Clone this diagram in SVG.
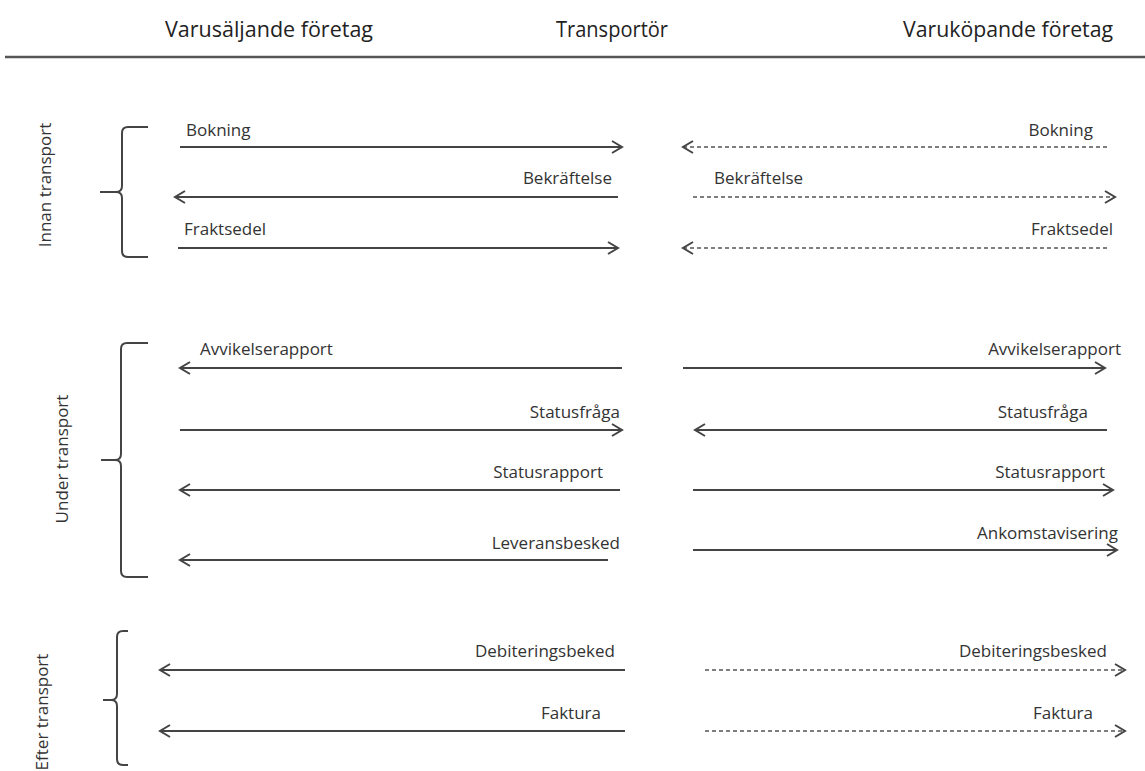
<svg xmlns="http://www.w3.org/2000/svg" width="1145" height="771" viewBox="0 0 1145 771">
<defs>
<style>
.hdr{font-family:"Open Sans","Liberation Sans",sans-serif;font-size:21px;fill:#222;lengthAdjust:spacingAndGlyphs}
.lbl{font-family:"Open Sans","Liberation Sans",sans-serif;font-size:17px;fill:#333}
.side{font-family:"Open Sans","Liberation Sans",sans-serif;font-size:17px;fill:#333}
.s{stroke:#444;stroke-width:2;fill:none;marker-end:url(#ah)}
.d{stroke:#555;stroke-width:1.6;fill:none;stroke-dasharray:4 3;marker-end:url(#ah)}
.br{stroke:#444;stroke-width:2;fill:none}
</style>
<marker id="ah" markerUnits="userSpaceOnUse" markerWidth="14" markerHeight="16" viewBox="0 0 14 16" refX="12" refY="8" orient="auto">
<path d="M2,2 L12,8 L2,14" fill="none" stroke="#444" stroke-width="2" stroke-dasharray="none"/>
</marker>
</defs>
<rect width="1145" height="771" fill="#fff"/>

<g id="header">
<text class="hdr" x="165" y="37" textLength="208" lengthAdjust="spacingAndGlyphs">Varusäljande företag</text>
<text class="hdr" x="556" y="37" textLength="112" lengthAdjust="spacingAndGlyphs">Transportör</text>
<text class="hdr" x="903" y="37" textLength="210" lengthAdjust="spacingAndGlyphs">Varuköpande företag</text>
<line x1="5" y1="57" x2="1145" y2="57" stroke="#555" stroke-width="2.5"/>
</g>

<g id="innan">
<path class="br" d="M148,127 H128 Q122,127 122,133 V186 Q122,192 116,192 H100 M116,192 Q122,192 122,198 V251 Q122,257 128,257 H148"/>
<text class="side" transform="translate(51,185) rotate(-90)" text-anchor="middle">Innan transport</text>
</g>
<g id="under">
<path class="br" d="M148,343 H127 Q121,343 121,349 V454 Q121,460 115,460 H101 M115,460 Q121,460 121,466 V571 Q121,577 127,577 H148"/>
<text class="side" transform="translate(68,459) rotate(-90)" text-anchor="middle">Under transport</text>
</g>
<g id="efter">
<path class="br" d="M128,631 H123 Q117,631 117,637 V694 Q117,700 111,700 H103 M111,700 Q117,700 117,706 V759 Q117,765 123,765 H128"/>
<text class="side" transform="translate(48,712) rotate(-90)" text-anchor="middle">Efter transport</text>
</g>

<g id="labels">
<text class="lbl" x="186" y="136">Bokning</text>
<text class="lbl" x="612" y="184" text-anchor="end">Bekräftelse</text>
<text class="lbl" x="184" y="235">Fraktsedel</text>
<text class="lbl" x="1093" y="136" text-anchor="end">Bokning</text>
<text class="lbl" x="714" y="184">Bekräftelse</text>
<text class="lbl" x="1113" y="235" text-anchor="end">Fraktsedel</text>

<text class="lbl" x="200" y="355">Avvikelserapport</text>
<text class="lbl" x="1121" y="355" text-anchor="end">Avvikelserapport</text>
<text class="lbl" x="620" y="418" text-anchor="end">Statusfråga</text>
<text class="lbl" x="1088" y="418" text-anchor="end">Statusfråga</text>
<text class="lbl" x="603" y="478" text-anchor="end">Statusrapport</text>
<text class="lbl" x="1105" y="478" text-anchor="end">Statusrapport</text>
<text class="lbl" x="620" y="549" text-anchor="end">Leveransbesked</text>
<text class="lbl" x="1118" y="539" text-anchor="end">Ankomstavisering</text>

<text class="lbl" x="615" y="657" text-anchor="end">Debiteringsbeked</text>
<text class="lbl" x="1107" y="657" text-anchor="end">Debiteringsbesked</text>
<text class="lbl" x="601" y="719" text-anchor="end">Faktura</text>
<text class="lbl" x="1093" y="719" text-anchor="end">Faktura</text>
</g>

<g id="connectors">
<line class="s" x1="180" y1="147" x2="622" y2="147"/>
<line class="s" x1="618" y1="197" x2="175" y2="197"/>
<line class="s" x1="178" y1="248" x2="618" y2="248"/>
<line class="d" x1="1107" y1="147" x2="683" y2="147"/>
<line class="d" x1="693" y1="197" x2="1115" y2="197"/>
<line class="d" x1="1107" y1="248" x2="683" y2="248"/>

<line class="s" x1="622" y1="368" x2="180" y2="368"/>
<line class="s" x1="683" y1="368" x2="1105" y2="368"/>
<line class="s" x1="180" y1="430" x2="622" y2="430"/>
<line class="s" x1="1107" y1="430" x2="695" y2="430"/>
<line class="s" x1="620" y1="490" x2="180" y2="490"/>
<line class="s" x1="693" y1="490" x2="1113" y2="490"/>
<line class="s" x1="608" y1="560" x2="180" y2="560"/>
<line class="s" x1="693" y1="550" x2="1117" y2="550"/>

<line class="s" x1="625" y1="670" x2="160" y2="670"/>
<line class="s" x1="625" y1="731" x2="160" y2="731"/>
<line class="d" x1="705" y1="670" x2="1125" y2="670"/>
<line class="d" x1="705" y1="731" x2="1125" y2="731"/>
</g>
</svg>
